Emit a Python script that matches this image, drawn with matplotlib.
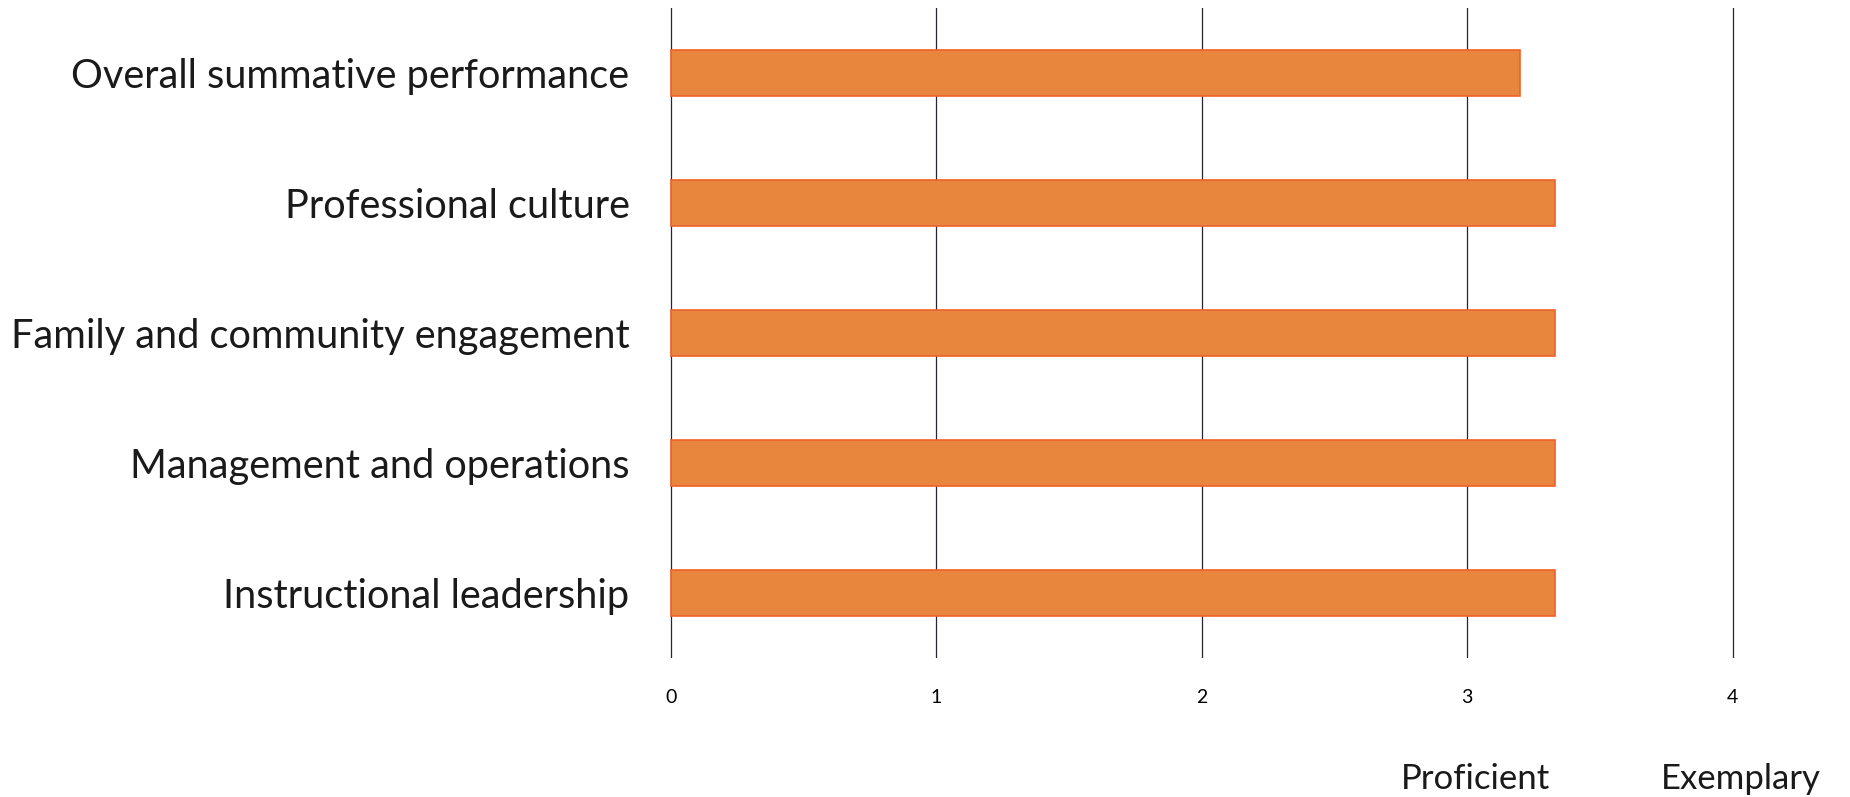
import numpy as np
import matplotlib
matplotlib.use('Agg')
import matplotlib.pyplot as plt

plt.rcParams['font.family'] = ['Lato', 'DejaVu Sans']

# rubric domains, listed bottom to top
domains = ['Instructional leadership',
           'Management and operations',
           'Family and community engagement',
           'Professional culture',
           'Overall summative performance']
scores = [3.33, 3.33, 3.33, 3.33, 3.2]
ticks = [0, 1, 2, 3, 4]
levels = ['Proficient', 'Exemplary']
level_pos = [3.03, 4.03]

fig = plt.figure(figsize=(18.5, 7.97), dpi=100)
ax = fig.add_axes([0.3598, 0.1744, 0.5796, 0.8156])

y = np.arange(len(domains))
ax.barh(y, scores, height=0.35, color='#E9863E', edgecolor='#F0602A', lw=1.2, zorder=3)

for t in ticks:
    ax.axvline(t, color='#262630', lw=0.9, zorder=1)

ax.set_xlim(-0.02, 4.02)
ax.set_ylim(-0.5, 4.5)
ax.set_xticks(ticks)
ax.set_xticklabels([str(t) for t in ticks], fontsize=14)
ax.set_yticks(y)
ax.set_yticklabels(domains, fontsize=28.6, color='#1a1a1a')
ax.tick_params(axis='x', length=0, pad=22)
ax.tick_params(axis='y', length=0, pad=26)
for s in ax.spines.values():
    s.set_visible(False)

for lab, xp in zip(levels, level_pos):
    ax.text(xp, -0.186, lab, transform=ax.get_xaxis_transform(), ha='center', va='center',
            fontsize=25, color='#1a1a1a', clip_on=False)

fig.savefig('out.png', dpi=100, facecolor='white')
